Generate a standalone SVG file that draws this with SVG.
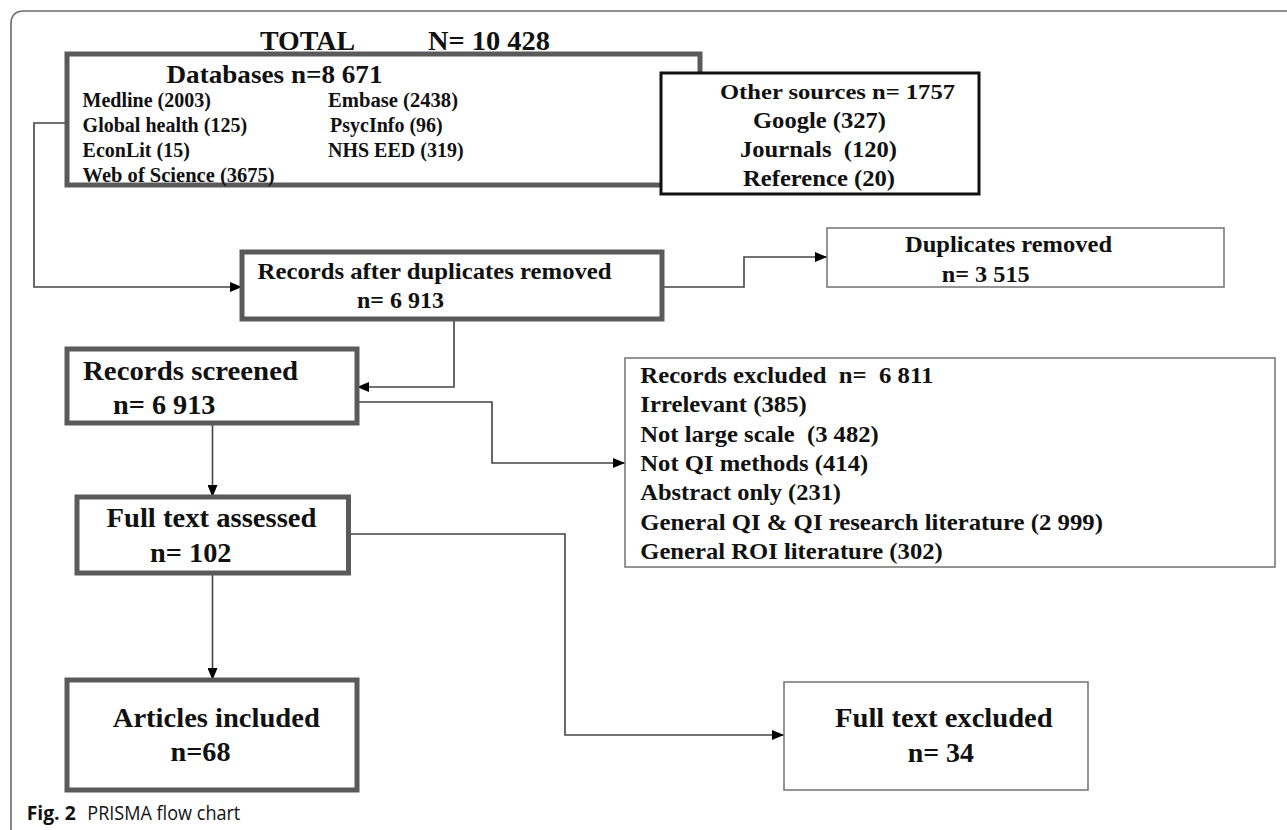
<svg xmlns="http://www.w3.org/2000/svg" width="1287" height="830" viewBox="0 0 1287 830">
<defs>
<marker id="arr" markerUnits="userSpaceOnUse" markerWidth="12" markerHeight="10" refX="12" refY="5" orient="auto">
<path d="M0,0 L12,5 L0,10 z" fill="#000"/>
</marker>
<style>
.t{font-family:"Liberation Serif","Times New Roman",serif;font-weight:bold;fill:#111;white-space:pre}
.thick{fill:#fff;stroke:#5a5a5a;stroke-width:5}
.thin{fill:#fff;stroke:#7a7a7a;stroke-width:1.6}
.conn{fill:none;stroke:#444;stroke-width:1.6}
.cap{font-family:"Open Sans","Noto Sans",sans-serif;fill:#111}
</style>
</defs>
<rect width="1287" height="830" fill="#fff"/>
<path d="M11 830 V24 Q11 11 24 11 H1287" fill="none" stroke="#6a6a6a" stroke-width="1.6"/>

<g id="total">
<text class="t" x="260" y="50" font-size="26.5" textLength="95" lengthAdjust="spacingAndGlyphs">TOTAL</text>
<text class="t" x="428" y="50" font-size="26.5" textLength="122" lengthAdjust="spacingAndGlyphs">N= 10 428</text>
</g>

<g id="connectors">
<path class="conn" d="M67 123 H34 V287 H242" marker-end="url(#arr)"/>
<path class="conn" d="M662 287 H744 V257 H827" marker-end="url(#arr)"/>
<path class="conn" d="M454 319 V387 H357" marker-end="url(#arr)"/>
<path class="conn" d="M357 402 H492 V463 H625" marker-end="url(#arr)"/>
<path class="conn" d="M212.5 423 V497" marker-end="url(#arr)"/>
<path class="conn" d="M349 534 H565 V735 H784" marker-end="url(#arr)"/>
<path class="conn" d="M212.5 573 V680" marker-end="url(#arr)"/>
</g>

<g id="databases">
<rect class="thick" x="67" y="54" width="633" height="131" stroke-width="4.5"/>
<text class="t" x="166.5" y="83" font-size="24.5" textLength="216" lengthAdjust="spacingAndGlyphs">Databases n=8 671</text>
<text class="t" x="82.6" y="107" font-size="20">Medline (2003)</text>
<text class="t" x="82.6" y="132" font-size="20">Global health (125)</text>
<text class="t" x="82.6" y="157" font-size="20">EconLit (15)</text>
<text class="t" x="82.6" y="182" font-size="20" textLength="192" lengthAdjust="spacingAndGlyphs">Web of Science (3675)</text>
<text class="t" x="328" y="107" font-size="20" textLength="130" lengthAdjust="spacingAndGlyphs">Embase (2438)</text>
<text class="t" x="330" y="132" font-size="20">PsycInfo (96)</text>
<text class="t" x="328" y="157" font-size="20">NHS EED (319)</text>
</g>

<g id="other-sources">
<rect x="661" y="73" width="318" height="121" fill="#fff" stroke="#111" stroke-width="3"/>
<text class="t" x="720" y="99" font-size="22" textLength="235" lengthAdjust="spacingAndGlyphs">Other sources n= 1757</text>
<text class="t" x="753" y="128" font-size="23.5" textLength="133" lengthAdjust="spacingAndGlyphs">Google (327)</text>
<text class="t" x="740" y="157" font-size="23.5" textLength="157" lengthAdjust="spacingAndGlyphs">Journals  (120)</text>
<text class="t" x="743" y="186" font-size="23.5" textLength="152" lengthAdjust="spacingAndGlyphs">Reference (20)</text>
</g>

<g id="records-after-duplicates">
<rect class="thick" x="242" y="252" width="420" height="67" stroke-width="4.5"/>
<text class="t" x="257.6" y="279" font-size="23.5" textLength="354" lengthAdjust="spacingAndGlyphs">Records after duplicates removed</text>
<text class="t" x="357" y="308" font-size="23.5" textLength="87" lengthAdjust="spacingAndGlyphs">n= 6 913</text>
</g>

<g id="duplicates-removed">
<rect class="thin" x="827" y="228" width="397" height="59"/>
<text class="t" x="905" y="252" font-size="23.5" textLength="207" lengthAdjust="spacingAndGlyphs">Duplicates removed</text>
<text class="t" x="941.7" y="282" font-size="23.5" textLength="88" lengthAdjust="spacingAndGlyphs">n= 3 515</text>
</g>

<g id="records-screened">
<rect class="thick" x="67" y="349" width="290" height="74"/>
<text class="t" x="83" y="380" font-size="27" textLength="215" lengthAdjust="spacingAndGlyphs">Records screened</text>
<text class="t" x="113" y="414" font-size="27" textLength="102.5" lengthAdjust="spacingAndGlyphs">n= 6 913</text>
</g>

<g id="records-excluded">
<rect class="thin" x="625" y="358" width="650" height="209"/>
<text class="t" x="640.3" y="383" font-size="23.5" textLength="293" lengthAdjust="spacingAndGlyphs">Records excluded  n=  6 811</text>
<text class="t" x="640.3" y="412" font-size="23.5" textLength="166.5" lengthAdjust="spacingAndGlyphs">Irrelevant (385)</text>
<text class="t" x="640.3" y="441.5" font-size="23.5" textLength="238.4" lengthAdjust="spacingAndGlyphs">Not large scale  (3 482)</text>
<text class="t" x="640.3" y="471" font-size="23.5" textLength="227.9" lengthAdjust="spacingAndGlyphs">Not QI methods (414)</text>
<text class="t" x="640.3" y="500" font-size="23.5" textLength="200.7" lengthAdjust="spacingAndGlyphs">Abstract only (231)</text>
<text class="t" x="640.3" y="529.5" font-size="23.5" textLength="462.7" lengthAdjust="spacingAndGlyphs">General QI &amp; QI research literature (2 999)</text>
<text class="t" x="640.3" y="559" font-size="23.5" textLength="302.4" lengthAdjust="spacingAndGlyphs">General ROI literature (302)</text>
</g>

<g id="full-text-assessed">
<rect class="thick" x="77" y="497" width="271.5" height="76"/>
<text class="t" x="106.5" y="527" font-size="27" textLength="210" lengthAdjust="spacingAndGlyphs">Full text assessed</text>
<text class="t" x="150" y="562" font-size="27" textLength="81.5" lengthAdjust="spacingAndGlyphs">n= 102</text>
</g>

<g id="articles-included">
<rect class="thick" x="67" y="680" width="290" height="110"/>
<text class="t" x="112.8" y="727" font-size="27" textLength="207" lengthAdjust="spacingAndGlyphs">Articles included</text>
<text class="t" x="170.5" y="761" font-size="27" textLength="60" lengthAdjust="spacingAndGlyphs">n=68</text>
</g>

<g id="full-text-excluded">
<rect class="thin" x="784" y="682" width="304" height="108"/>
<text class="t" x="835" y="727" font-size="27" textLength="217.7" lengthAdjust="spacingAndGlyphs">Full text excluded</text>
<text class="t" x="907.7" y="762" font-size="27" textLength="66.3" lengthAdjust="spacingAndGlyphs">n= 34</text>
</g>

<g id="caption">
<text class="cap" x="26.7" y="820" font-size="19.5" font-weight="bold" textLength="49" lengthAdjust="spacingAndGlyphs">Fig. 2</text>
<text class="cap" x="87.3" y="820" font-size="19.5" textLength="153" lengthAdjust="spacingAndGlyphs">PRISMA flow chart</text>
</g>
</svg>
